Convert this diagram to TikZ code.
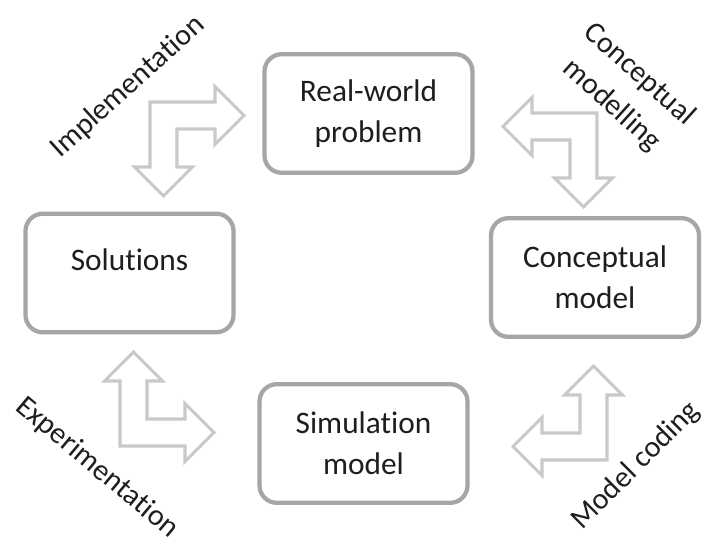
\documentclass[tikz,border=0pt]{standalone}
\usepackage{fontspec}
\setmainfont{Carlito}[RawFeature={-liga;-clig;-calt;-dlig}]
\definecolor{boxgray}{HTML}{A6A6A6}
\definecolor{arrowgray}{HTML}{C9C9C9}
\definecolor{inkgray}{HTML}{1E1E1E}
\begin{document}
\begin{tikzpicture}[x=0.75pt,y=-0.75pt,
  stage/.style={draw=boxgray, line width=3.2pt, rounded corners=13pt, fill=white,
    minimum width=156pt, minimum height=89pt, inner sep=0pt,
    align=center, text=inkgray, font=\fontsize{23.5}{31}\selectfont},
  caption/.style={text=inkgray, align=center, inner sep=0pt,
    font=\fontsize{22.5}{31}\selectfont},
  hollow/.style={draw=arrowgray, line width=2.3pt, line join=miter, fill=white},
  % L-shaped double arrow: outer corner at the pic origin, arms along +x and +y
  bent/.pic={
    \draw[hollow] (0,0) -- (65,0) -- (65,-15.5) -- (94,13.5) -- (65,42.5)
      -- (65,27) -- (27,27) -- (27,65) -- (42.5,65) -- (13.5,94) -- (-15.5,65)
      -- (0,65) -- cycle;
  }]
\useasboundingbox (0,0) rectangle (702,539);

% stages of the cycle
\node[stage] (problem) at (368.5,113.5) {Real-world\\problem};
\node[stage] (solutions) at (129.5,273) {};
\node[caption, font=\fontsize{23.5}{31}\selectfont] (soltext) at (129.5,260) {Solutions};
\node[stage] (concept) at (595,277.5) {Conceptual\\model};
\node[stage] (simmodel) at (363.5,443.5) {Simulation\\model};

% bent double arrows between the stages
\pic (implarrow) at (150,102) {bent};
\pic[xscale=-1] (cmarrow) at (597,113) {bent};
\pic[yscale=-1] (exparrow) at (120,446) {bent};
\pic[xscale=-1,yscale=-1] (codearrow) at (607,460) {bent};

% activity labels
\node[caption, rotate=42] (impl) at (128,87) {Implementation};
\node[caption, rotate=-42] (cmodelling) at (625.5,90) {Conceptual\\modelling};
\node[caption, rotate=-40] (exper) at (97,468) {Experimentation};
\node[caption, rotate=45] (coding) at (636,466) {Model coding};
\end{tikzpicture}
\end{document}
